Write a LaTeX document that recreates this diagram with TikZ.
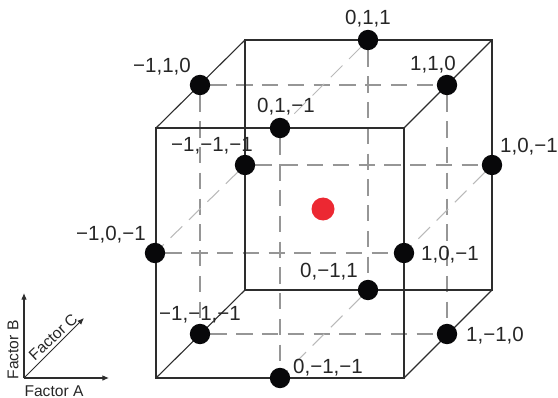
\documentclass[tikz,border=0pt]{standalone}
\usepackage{fontspec}
\setmainfont{Liberation Sans}
\usepackage{tikz}
\usetikzlibrary{arrows.meta, positioning, backgrounds}
\definecolor{punto}{RGB}{8,8,10}
\definecolor{centro}{RGB}{236,40,50}
\definecolor{borde}{RGB}{45,45,45}
\definecolor{oculto}{RGB}{150,150,150}
\definecolor{diagonal}{RGB}{185,185,185}
\tikzset{
  dot/.style={circle, fill=punto, inner sep=0pt, minimum size=0.61cm},
  reddot/.style={circle, fill=centro, inner sep=0pt, minimum size=0.69cm},
  numlab/.style={inner sep=0pt, on grid, yshift=-1.4pt, text=black!85, font=\fontsize{17.5}{18}\selectfont},
  factorlab/.style={inner sep=0pt, text=black!85, font=\fontsize{13.3}{14}\selectfont},
  edge/.style={draw=borde, line width=0.95pt},
  hidden/.style={draw=oculto, line width=0.9pt, dash pattern=on 14pt off 8pt},
  hiddendiag/.style={draw=diagonal, line width=0.9pt, dash pattern=on 14pt off 8pt},
  axis/.style={-{Latex[length=2mm, width=1.7mm]}, draw=borde, line width=0.9pt}
}
\begin{document}
\begin{tikzpicture}[x=0.03cm, y=-0.03cm]
    \useasboundingbox (0,0) rectangle (558,398);
    % corners
    \coordinate (ful) at (156,128);
    \coordinate (fur) at (404,128);
    \coordinate (fll) at (156,378);
    \coordinate (flr) at (404,378);
    \coordinate (bul) at (245,40);
    \coordinate (bur) at (492,40);
    \coordinate (bll) at (245,290);
    \coordinate (blr) at (492,290);
    % points
    \node[dot] (topback)   at (368,40)  {};
    \node[dot] (topleft)   at (200,85)  {};
    \node[dot] (topright)  at (447,85)  {};
    \node[dot] (topfront)  at (280,128) {};
    \node[dot] (midbackl)  at (245,165) {};
    \node[dot] (midbackr)  at (492,165) {};
    \node[dot] (midfrontl) at (155,253) {};
    \node[dot] (midfrontr) at (404,253) {};
    \node[dot] (lowback)   at (368,290) {};
    \node[dot] (lowleft)   at (200,334) {};
    \node[dot] (lowright)  at (447,334) {};
    \node[dot] (lowfront)  at (280,378) {};
    \node[reddot] (center) at (323,209) {};
    % labels
    \node[numlab, above=0.69cm of topback] (labtopback) {0,1,1};
    \node[numlab, above left=0.6cm and 1.14cm of topleft] (labtopleft) {−1,1,0};
    \node[numlab, above left=0.66cm and 0.42cm of topright] (labtopright) {1,1,0};
    \node[numlab, above right=0.69cm and 0.18cm of topfront] (labtopfront) {0,1,−1};
    \node[numlab, above left=0.63cm and 0.99cm of midbackl] (labmidbackl) {−1,−1,−1};
    \node[numlab, above right=0.6cm and 1.11cm of midbackr] (labmidbackr) {1,0,−1};
    \node[numlab, above left=0.6cm and 1.32cm of midfrontl] (labmidfrontl) {−1,0,−1};
    \node[numlab, right=1.38cm of midfrontr] (labmidfrontr) {1,0,−1};
    \node[numlab, above left=0.6cm and 1.17cm of lowback] (lablowback) {0,−1,1};
    \node[numlab, above=0.63cm of lowleft] (lablowleft) {−1,−1,−1};
    \node[numlab, right=1.44cm of lowright] (lablowright) {1,−1,0};
    \node[numlab, above right=0.36cm and 1.44cm of lowfront] (lablowfront) {0,−1,−1};
    % factor axes
    \coordinate (origin) at (24,378);
    \coordinate (tipa) at (109,378);
    \coordinate (tipb) at (24,293);
    \coordinate (tipc) at (84,318);
    \draw[axis] (origin) -- (tipa);
    \draw[axis] (origin) -- (tipb);
    \draw[axis] (origin) -- (tipc);
    \node[factorlab] (faca) at (54,391) {Factor A};
    \node[factorlab, rotate=90] (facb) at (13,350) {Factor B};
    \node[factorlab, rotate=43] (facc) at (53,337) {Factor C};
    \begin{scope}[on background layer]
      \draw[hidden] (topleft) -- (topright);
      \draw[hidden] (midbackl) -- (midbackr);
      \draw[hidden] (midfrontl) -- (midfrontr);
      \draw[hidden] (lowleft) -- (lowright);
      \draw[hidden] (topleft) -- (lowleft);
      \draw[hidden] (topright) -- (lowright);
      \draw[hidden] (topfront) -- (lowfront);
      \draw[hidden] (topback) -- (lowback);
      \draw[hiddendiag] (topback) -- (topfront);
      \draw[hiddendiag] (midbackr) -- (midfrontr);
      \draw[hiddendiag] (midbackl) -- (midfrontl);
      \draw[hiddendiag] (lowback) -- (lowfront);
      \draw[edge] (ful) rectangle (flr);
      \draw[edge] (bul) rectangle (blr);
      \draw[edge] (fll) -- (bll);
      \draw[edge] (fur) -- (bur);
      \draw[edge] (ful) -- (bul);
      \draw[edge] (flr) -- (blr);
    \end{scope}
  \end{tikzpicture}
\end{document}
